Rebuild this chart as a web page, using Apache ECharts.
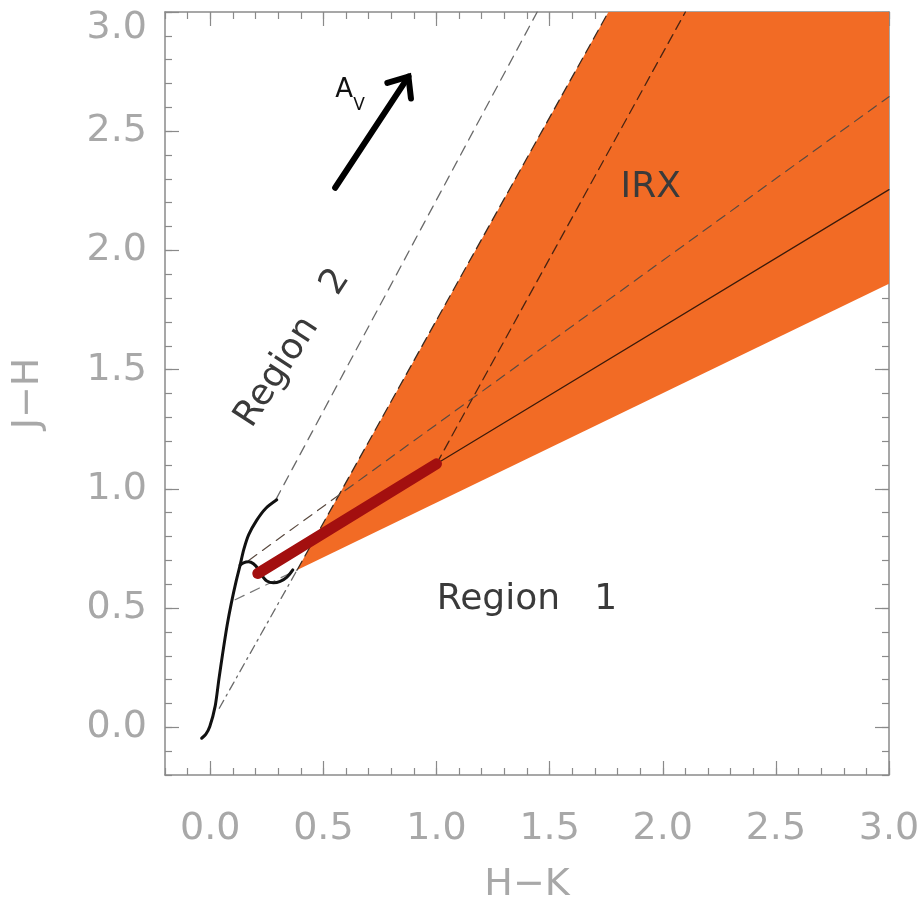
<!DOCTYPE html>
<html><head><meta charset="utf-8">
<script src="https://cdn.jsdelivr.net/npm/echarts@6/dist/echarts.min.js"></script>
<style>html,body{margin:0;padding:0;background:#fff}#c{width:923px;height:903px}</style>
</head><body><div id="c"></div>
<script>
// ---- data ----
const majorTicks = [0, 0.5, 1.0, 1.5, 2.0, 2.5, 3.0];
const tickLabels = ['0.0', '0.5', '1.0', '1.5', '2.0', '2.5', '3.0'];
const xName = 'H\u2212K';
const yName = 'J\u2212H';
// intrinsic stellar locus (dwarfs trunk + giant branch)
const mainLocus = [[-0.038,-0.046],[-0.02,-0.03],[-0.002,0.003],[0.022,0.09],[0.038,0.2],[0.055,0.31],[0.075,0.43],[0.093,0.52],[0.115,0.615],[0.132,0.68],[0.148,0.745],[0.17,0.808],[0.205,0.868],[0.245,0.918],[0.294,0.954]];
// M-dwarf hook
const dwarfHook = [[0.132,0.68],[0.147,0.69],[0.169,0.694],[0.191,0.686],[0.213,0.662],[0.23,0.635],[0.25,0.614],[0.279,0.606],[0.309,0.612],[0.339,0.63],[0.365,0.66]];
const cttsLocus = [[0.21,0.645],[1.0,1.105]];
const cttsExtension = [[1.0,1.105],[3.0,2.255]];
const irxRegion = [[0.384,0.66],[1.76,3.0],[3.0,3.0],[3.0,1.86]];
const reddenCtts = [[1.0,1.105],[2.1,3.0]];
const reddenGiant = [[0.29,0.955],[1.445,3.0]];
const reddenDwarfLow = [[0.04,0.08],[0.384,0.66]];
const reddenDwarfHigh = [[0.384,0.66],[1.76,3.0]];
const upperDashed = [[0.17,0.70],[3.0,2.645]];
const lowerDashed = [[0.11,0.535],[0.384,0.66]];
const avVector = [[0.552,2.263],[0.876,2.729]];
const annotationText = ['Region   1', 'Region   2', 'IRX'];
const annotationAt = [[1.40,0.534],[0.365,1.59],[1.947,2.263]];
const annotationAngle = [0, 57, 0];

// ---- chart ----
const FONT = 'DejaVu Sans';
const AX = '#8a8a8a';
const LBL = '#a8a8a8';
const fmt = v => { const i = majorTicks.findIndex(t => Math.abs(t - v) < 1e-6); return i >= 0 ? tickLabels[i] : ''; };

function minorAxis(pos, isX, withLabels) {
  const a = {
    type: 'value', min: -0.2, max: 3.0, interval: 0.1, position: pos, gridIndex: 0,
    axisLine: { show: true, onZero: false, lineStyle: { color: AX, width: 1.5 } },
    axisTick: { show: true, inside: true, length: 7, lineStyle: { color: AX, width: 1.2 } },
    axisLabel: { show: false },
    splitLine: { show: false }
  };
  if (withLabels) {
    a.axisLabel = {
      show: true, customValues: majorTicks,
      formatter: isX ? fmt : (v => (Math.abs(v - 3) < 1e-6 ? '{m|' + fmt(v) + '}' : fmt(v))),
      margin: isX ? 35 : 18, fontSize: 38, color: LBL, fontFamily: FONT,
      rich: { m: { fontSize: 38, color: LBL, fontFamily: FONT, padding: [32, 0, 0, 0] } }
    };
    a.name = isX ? xName : yName;
    a.nameLocation = 'middle';
    a.nameGap = isX ? 91 : 118;
    a.nameTextStyle = { fontSize: 38, color: LBL, fontFamily: FONT };
  }
  return a;
}
function majorAxis(pos) {
  return {
    type: 'value', min: -0.2, max: 3.0, position: pos, gridIndex: 0,
    axisLine: { show: false, onZero: false },
    axisTick: { show: true, inside: true, length: 14, customValues: majorTicks, lineStyle: { color: AX, width: 1.2 } },
    axisLabel: { show: false },
    splitLine: { show: false }
  };
}

function lineSeries(data, color, width, type, z, smooth) {
  return {
    type: 'line', data: data, xAxisIndex: 0, yAxisIndex: 0, symbol: 'none', showSymbol: false,
    silent: true, z: z, smooth: smooth || false, clip: true,
    lineStyle: { color: color, width: width, type: type || 'solid', cap: 'round' }
  };
}

const chart = echarts.init(document.getElementById('c'), null, { renderer: 'canvas' });
chart.setOption({
  animation: false,
  backgroundColor: '#fff',
  grid: { left: 165, right: 34, top: 12, bottom: 128, containLabel: false, outerBoundsMode: 'none' },
  xAxis: [minorAxis('bottom', true, true), majorAxis('bottom'), minorAxis('top', true, false), majorAxis('top')],
  yAxis: [minorAxis('left', false, true), majorAxis('left'), minorAxis('right', false, false), majorAxis('right')],
  series: [
    {
      type: 'custom', xAxisIndex: 0, yAxisIndex: 0, z: 1, silent: true, data: irxRegion,
      renderItem: (params, api) => params.dataIndex !== 0 ? null : ({
        type: 'polygon', shape: { points: irxRegion.map(p => api.coord(p)) },
        style: { fill: '#f26b25', stroke: null }
      })
    },
    lineSeries(reddenGiant, '#6a6a6a', 1.3, [10, 7], 3),
    lineSeries(reddenDwarfLow, '#6a6a6a', 1.3, [9, 5, 2, 5], 3),
    lineSeries(reddenDwarfHigh, '#3a2a20', 1.3, [10, 6], 3),
    lineSeries(upperDashed, '#5a4a40', 1.2, [10, 7], 3),
    lineSeries(lowerDashed, '#7a7a7a', 1.2, [10, 7], 3),
    lineSeries(reddenCtts, '#4a2412', 1.3, [10, 6], 3),
    lineSeries(cttsExtension, '#3b1a0a', 1.2, 'solid', 3),
    lineSeries(mainLocus, '#111', 3, 'solid', 5, 0.25),
    lineSeries(dwarfHook, '#111', 3, 'solid', 5, 0.4),
    lineSeries(cttsLocus, '#a30f0f', 11, 'solid', 6),
    {
      type: 'custom', xAxisIndex: 0, yAxisIndex: 0, z: 8, silent: true, data: [avVector[0]],
      renderItem: (params, api) => {
        const t = api.coord(avVector[0]), h = api.coord(avVector[1]);
        const ang = Math.atan2(t[1] - h[1], t[0] - h[0]);
        const L = 22, spread = 40 * Math.PI / 180;
        const a1 = [h[0] + L * Math.cos(ang - spread), h[1] + L * Math.sin(ang - spread)];
        const a2 = [h[0] + L * Math.cos(ang + spread), h[1] + L * Math.sin(ang + spread)];
        return {
          type: 'group', children: [
            { type: 'line', shape: { x1: t[0], y1: t[1], x2: h[0], y2: h[1] }, style: { stroke: '#000', lineWidth: 6, lineCap: 'round' } },
            { type: 'polyline', shape: { points: [a1, h, a2] }, style: { stroke: '#000', lineWidth: 6, lineCap: 'round', lineJoin: 'miter', fill: null } },
            { type: 'text', x: t[0], y: t[1] - 84, style: { text: 'A', fontSize: 26, fontFamily: FONT, fill: '#111', align: 'left', verticalAlign: 'bottom' } },
            { type: 'text', x: t[0] + 18, y: t[1] - 74, style: { text: 'V', fontSize: 17, fontFamily: FONT, fill: '#111', align: 'left', verticalAlign: 'bottom' } }
          ]
        };
      }
    },
    {
      type: 'custom', xAxisIndex: 0, yAxisIndex: 0, z: 9, silent: true, clip: false, data: annotationAt,
      renderItem: (params, api) => {
        const i = params.dataIndex;
        const p = api.coord(annotationAt[i]);
        return {
          type: 'text', x: p[0], y: p[1], rotation: annotationAngle[i] * Math.PI / 180,
          style: { text: annotationText[i], fontSize: 36, fontFamily: FONT, fill: '#3a3a3a', align: 'center', verticalAlign: 'middle' }
        };
      }
    }
  ]
});
</script>
</body></html>
